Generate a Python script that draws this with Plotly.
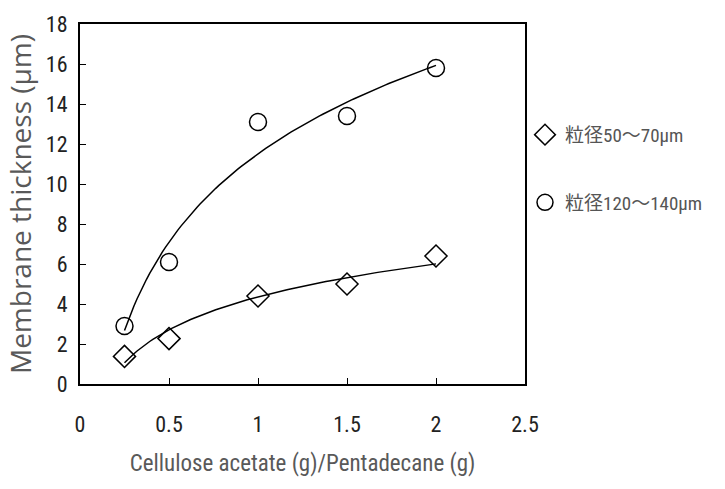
import numpy as np
import plotly.graph_objects as go

ratio = [0.25, 0.5, 1.0, 1.5, 2.0]
small_thick = [1.38, 2.27, 4.4, 5.0, 6.4]
large_thick = [2.9, 6.1, 13.1, 13.4, 15.8]
series_names = ["粒径50～70μm", "粒径120～140μm"]
x_ticks = [0, 0.5, 1, 1.5, 2, 2.5]
x_tick_text = ["0", "0.5", "1", "1.5", "2", "2.5"]
y_ticks = list(range(0, 19, 2))

def log_fit(x, y):
    a, b = np.polyfit(np.log(x), y, 1)
    xs = np.linspace(min(x), max(x), 100)
    return xs, a * np.log(xs) + b

NARROW = "Roboto Condensed, Liberation Sans Narrow, sans-serif"
fig = go.Figure()
tick_font = dict(family=NARROW, size=22, color="#222222")

for ys in (small_thick, large_thick):
    xs, fit = log_fit(ratio, ys)
    fig.add_trace(go.Scatter(x=xs, y=fit, mode="lines", line=dict(color="black", width=1.5),
                             showlegend=False, hoverinfo="skip"))

fig.add_trace(go.Scatter(x=ratio, y=small_thick, mode="markers", name=series_names[0], legendgroup="a",
                         marker=dict(symbol="diamond-open", size=17, color="black", line=dict(width=1.5))))
fig.add_trace(go.Scatter(x=ratio, y=large_thick, mode="markers", name=series_names[1], legendgroup="b",
                         marker=dict(symbol="circle-open", size=17, color="black", line=dict(width=1.5))))

fig.update_layout(
    width=725, height=489,
    margin=dict(l=80, r=200, t=19, b=105),
    paper_bgcolor="white", plot_bgcolor="white",
    legend=dict(x=1.0, xref="paper", y=0.745, xanchor="left", yanchor="top", traceorder="grouped",
                tracegroupgap=40, itemwidth=30, bgcolor="rgba(0,0,0,0)",
                font=dict(family="Roboto Condensed, Noto Sans CJK JP, sans-serif", size=19, color="#555555")),
    xaxis=dict(range=[0, 2.5], tickvals=x_ticks, ticktext=x_tick_text, ticks="inside", ticklen=6,
               tickcolor="black", showline=True, linecolor="black", linewidth=2, mirror=True,
               showgrid=False, zeroline=False, tickfont=tick_font, ticklabelstandoff=20,
               title=dict(text="Cellulose acetate (g)/Pentadecane (g)", standoff=18,
                          font=dict(family=NARROW, size=23, color="#595959"))),
    yaxis=dict(range=[0, 18], tickvals=y_ticks, ticks="inside", ticklen=6,
               tickcolor="black", showline=True, linecolor="black", linewidth=2, mirror=True,
               showgrid=False, zeroline=False, tickfont=tick_font, ticklabelstandoff=6,
               title=dict(text="Membrane thickness (μm)", standoff=6,
                          font=dict(family="Open Sans, sans-serif", size=28, color="#595959"))),
)

fig.write_html("out.html")
